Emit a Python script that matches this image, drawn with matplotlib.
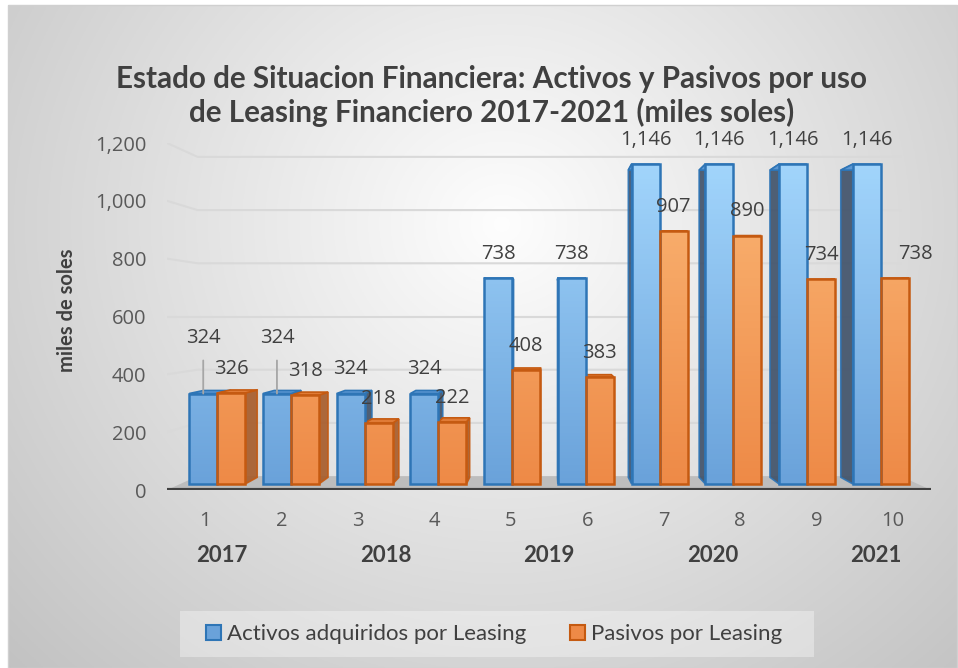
import numpy as np
import matplotlib.pyplot as plt
from matplotlib.patches import Polygon, Rectangle, Patch
from matplotlib.colors import to_rgb

plt.rcParams['font.family'] = ['Lato', 'DejaVu Sans']
NUM_FONT = ['Open Sans', 'DejaVu Sans']

# data
periods = list(range(1, 11))
activos = [324, 324, 324, 324, 738, 738, 1146, 1146, 1146, 1146]
pasivos = [326, 318, 218, 222, 408, 383, 907, 890, 734, 738]
years = ['2017', '2018', '2019', '2020', '2021']
year_first_period = [1, 3, 5, 7, 9]
series_names = ['Activos adquiridos por Leasing', 'Pasivos por Leasing']

# fake 3D projection (Excel-like perspective)
CX, CY = 5.5, 600
S_FRONT, S_BACK, S_WALL = 0.965, 0.927, 0.92
W = 0.38


def proj(x, v, s):
    return CX + (x - CX) * s, CY + (v - CY) * s


fig = plt.figure(figsize=(9.58, 6.68), dpi=100)
fig.patch.set_facecolor('white')

# chart background, radial gray gradient
bg = fig.add_axes([8 / 958, 0, 950 / 958, 663 / 668])
yy, xx = np.mgrid[0:1:300j, 0:1:400j]
r = np.sqrt(((xx - 0.52) / 0.5) ** 2 + ((yy - 0.33) / 0.67) ** 2) / np.sqrt(2)
g = np.clip(0.995 - 0.23 * r, 0, 1)
bg.imshow(np.dstack([g, g, g]), extent=(0, 1, 0, 1), aspect='auto', origin='upper')
bg.set_xlim(0, 1)
bg.set_ylim(0, 1)
bg.axis('off')
fig.patches.append(Rectangle((8 / 958, 0), 949 / 958, 663 / 668, transform=fig.transFigure,
                             facecolor='none', edgecolor='#d0d0d0', lw=1))

ax = fig.add_axes([167 / 958, 1 - 490 / 668, 764 / 958, 347 / 668])
ax.patch.set_visible(False)
for sp in ax.spines.values():
    sp.set_visible(False)

# floor
floor = Polygon([proj(0.5, 0, 1), proj(10.5, 0, 1), proj(10.5, 0, S_WALL), proj(0.5, 0, S_WALL)],
                closed=True, facecolor='#bdbdbd', edgecolor='none', zorder=0)
ax.add_patch(floor)

# gridlines on the side wall and back wall
yticks = list(range(0, 1201, 200))
for v in yticks[1:]:
    p0 = (0.5, v)
    p1 = proj(0.5, v, S_WALL)
    p2 = proj(10.5, v, S_WALL)
    ax.plot([p0[0], p1[0], p2[0]], [p0[1], p1[1], p2[1]], color='#d9d9d9', lw=1.5, zorder=0.5)

ax.plot([0.5, 10.5], [0, 0], color='#404040', lw=3, zorder=1, solid_capstyle='butt')

styles = [
    dict(off=-W, bottom='#6aa2da', top='#a4d7fd', edge='#2e75b6', side='#3e5068', lid='#5b96d2'),
    dict(off=0.0, bottom='#ee8a47', top='#fbb776', edge='#c55a11', side='#a65a28', lid='#e07b36'),
]


def grad(c0, c1, v0, v1):
    t = np.linspace(v0, v1, 64) / 1200
    a, b = np.array(to_rgb(c0)), np.array(to_rgb(c1))
    return (a[None, :] * (1 - t[:, None]) + b[None, :] * t[:, None])[:, None, :]


# side and top faces first
for vals, st in zip([activos, pasivos], styles):
    for i, h in zip(periods, vals):
        x0, x1 = i + st['off'], i + st['off'] + W
        xs = x1 if (x0 + x1) / 2 < CX else x0
        side = [proj(xs, 0, S_FRONT), proj(xs, h, S_FRONT), proj(xs, h, S_BACK), proj(xs, 0, S_BACK)]
        ax.add_patch(Polygon(side, closed=True, facecolor=st['side'], edgecolor=st['edge'],
                             lw=1.2, zorder=2, alpha=0.9))
        top = [proj(x0, h, S_FRONT), proj(x1, h, S_FRONT), proj(x1, h, S_BACK), proj(x0, h, S_BACK)]
        ax.add_patch(Polygon(top, closed=True, facecolor=st['lid'], edgecolor=st['edge'],
                             lw=1.2, zorder=2))

# front faces
base = CY * (1 - S_FRONT)
for vals, st in zip([activos, pasivos], styles):
    fx = [proj(i + st['off'], 0, S_FRONT)[0] for i in periods]
    bars = ax.bar(fx, [h * S_FRONT for h in vals], width=W * S_FRONT, bottom=base, align='edge',
                  facecolor='none', edgecolor=st['edge'], lw=1.8, zorder=4)
    for b, h in zip(bars, vals):
        x0 = b.get_x()
        im = ax.imshow(grad(st['bottom'], st['top'], 0, h), aspect='auto', origin='lower',
                       extent=(x0, x0 + b.get_width(), base, base + b.get_height()), zorder=3)
        im.set_clip_path(b)

# value labels
label_kw = dict(fontsize=14.5, family=NUM_FONT, color='#404040', ha='center', va='center',
                textcoords='offset points', annotation_clip=False, zorder=6)
for i, h in zip(periods, activos):
    cx, top = proj(i - W / 2, h, S_FRONT)
    if i <= 2:
        ax.annotate(f'{h:,}', xy=(cx, top), xytext=(0, 40), **label_kw,
                    arrowprops=dict(arrowstyle='-', color='#a6a6a6', lw=1.3, shrinkA=7, shrinkB=0))
    else:
        ax.annotate(f'{h:,}', xy=(cx, top), xytext=(0, 17.5), **label_kw)
for i, h in zip(periods, pasivos):
    cx, top = proj(i + W / 2, h, S_FRONT)
    dx = 15 if i == 10 else 0
    ax.annotate(f'{h:,}', xy=(cx, top), xytext=(dx, 17.5), **label_kw)

ax.set_xlim(0.5, 10.5)
ax.set_ylim(0, 1200)
ax.set_yticks(yticks)
ax.set_yticklabels([f'{v:,}' for v in yticks])
ax.set_xticks(periods)
ax.set_xticklabels([str(p) for p in periods])
ax.tick_params(axis='both', length=0, labelsize=14.5, colors='#595959')
ax.tick_params(axis='y', pad=15)
ax.tick_params(axis='x', pad=15)
for t in ax.get_xticklabels() + ax.get_yticklabels():
    t.set_family(NUM_FONT)

# year group labels
for yr, first in zip(years, year_first_period):
    gx = CX + (first + 0.5 - CX) * 1.07
    ax.text(gx, -0.19, yr, transform=ax.get_xaxis_transform(), ha='center', va='center',
            fontsize=16, fontweight='bold', color='#404040')

fig.text(67 / 958, 1 - 310 / 668, 'miles de soles', rotation=90, ha='center', va='center',
         fontsize=14.5, fontweight='bold', color='#404040')

fig.text(492 / 958, 1 - 96 / 668,
         'Estado de Situacion Financiera: Activos y Pasivos por uso\n'
         'de Leasing Financiero 2017-2021 (miles soles)',
         ha='center', va='center', fontsize=21.3, fontweight='bold', color='#404040', linespacing=1.24)

# legend
fig.patches.append(Rectangle((180 / 958, 1 - 657 / 668), 634 / 958, 46 / 668, transform=fig.transFigure,
                             facecolor='white', alpha=0.35, edgecolor='none'))
handles = [Patch(facecolor=styles[0]['bottom'], edgecolor=styles[0]['edge'], lw=1.5),
           Patch(facecolor=styles[1]['bottom'], edgecolor=styles[1]['edge'], lw=1.5)]
leg = fig.legend(handles, series_names, loc='center', bbox_to_anchor=(494 / 958, 1 - 634 / 668),
                 ncol=2, frameon=False, fontsize=16, handlelength=0.65, handleheight=0.65,
                 handletextpad=0.27, columnspacing=2.0)
for t in leg.get_texts():
    t.set_color('#404040')

fig.savefig('out.png', dpi=100)
